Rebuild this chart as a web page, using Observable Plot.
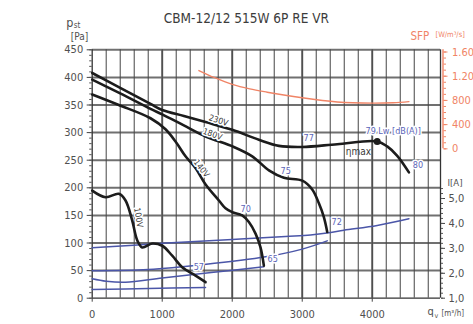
<!DOCTYPE html>
<html>
<head>
<meta charset="utf-8">
<script src="https://cdn.jsdelivr.net/npm/d3@7"></script>
<script src="https://cdn.jsdelivr.net/npm/@observablehq/plot@0.6"></script>
<style>
  body { margin: 0; background: #fff; }
</style>
</head>
<body>
<div id="chart"></div>
<script>
// Fan curves: static pressure [Pa] versus airflow qv [m³/h] at four supply voltages
const curve230V = [[0,408],[400,381],[833,352],[1000,341],[1310,330],[1619,319],[2000,305],[2381,287],[2667,276],[3000,274],[3500,279],[4071,284],[4214,275],[4357,258],[4524,228]];
const curve180V = [[0,396],[400,371],[833,343],[1000,333],[1309,313],[1620,293],[2023,274],[2286,257],[2530,231],[2738,218],[3000,213],[3143,197],[3238,172],[3309,147],[3357,120]];
const curve140V = [[0,369],[380,350],[833,326],[1047,306],[1200,282],[1333,257],[1480,235],[1620,206],[1810,177],[1904,163],[2000,156],[2143,150],[2238,138],[2333,117],[2404,92],[2452,59]];
const curve100V = [[0,195],[190,183],[381,189],[476,177],[571,141],[643,105],[714,92],[857,99],[1000,95],[1143,77],[1286,56],[1476,41],[1619,29]];

// Absorbed current [A] along each voltage curve
const current230V = [[0,3.02],[1000,3.2],[2000,3.36],[2762,3.48],[3119,3.54],[3381,3.63],[3595,3.73],[4071,3.92],[4524,4.19]];
const current180V = [[0,2.1],[800,2.15],[1600,2.35],[2476,2.66],[3000,2.97],[3357,3.3]];
const current140V = [[0,1.78],[200,1.68],[476,1.64],[1000,1.81],[1700,2.03],[2452,2.26]];
const current100V = [[0,1.35],[800,1.39],[1619,1.43]];

// Specific fan power [W/(m³/s)] at 230 V
const sfp230V = [[1524,1294],[1750,1175],[2000,1065],[2250,990],[2500,936],[3000,843],[3500,775],[4000,755],[4300,762],[4524,780]];

// Point of maximum efficiency
const etaMax = [[4071,284]];

// Sound power level labels Lw [dB(A)]
const lwText = ["57","65","70","72","75","77","79 Lw [dB(A)]","80"];
const lwFlow = [1521,2576,2190,3490,2761,3090,3975,4650];
const lwPressure = [57,71,162,138,231,290,303,241];

// Voltage labels along the curves
const voltText = ["230V","180V","140V","100V"];
const voltFlow = [1804,1719,1561,661];
const voltPressure = [322,297,235,146];
const voltAngle = [18,20,52,80];

// Axis ticks
const pressureTicks = [0,50,100,150,200,250,300,350,400,450];
const flowTicks = [0,1000,2000,3000,4000];
const currentTicks = [1,2,3,4,5];
const sfpTicks = [0,400,800,1200,1600];

const qMax = 4975;
const ink = "#1c1c1c";
const grid = "#707070";
const textGray = "#505050";
const blue = "#4b56a8";
const labelBlue = "#5b64b8";
const orange = "#f08466";
const font = "'DejaVu Sans Condensed', 'Liberation Sans Narrow', 'DejaVu Sans', sans-serif";

// Secondary axes are placed on the pressure scale
const currentToPa = d3.scaleLinear().domain([1, 5]).range([0, 180.6]);
const sfpToPa = d3.scaleLinear().domain([0, 1600]).range([270.6, 446]);

const currentFmt = d => currentToPa.invert(d).toFixed(1).replace(".", ",");
const sfpFmt = d => d3.format(",")(Math.round(sfpToPa.invert(d) / 100) * 100).replace(",", ".");

const q = d => d[0];
const p = d => d[1];

const lwRows = lwText.map((t, i) => ({t, q: lwFlow[i], p: lwPressure[i]}));
const voltRows = voltText.map((t, i) => ({t, q: voltFlow[i], p: voltPressure[i], a: voltAngle[i]}));

const chart = Plot.plot({
  width: 473,
  height: 324,
  marginLeft: 91.7,
  marginRight: 33,
  marginTop: 49.3,
  marginBottom: 26.3,
  x: {domain: [0, qMax], axis: null},
  y: {domain: [0, 450], axis: null},
  style: {fontFamily: font, fontSize: "11px", color: textGray, background: "white", overflow: "visible"},
  marks: [
    // grid
    Plot.ruleY(pressureTicks.slice(1), {stroke: grid, strokeWidth: 2}),
    Plot.ruleX(flowTicks.slice(1), {stroke: grid, strokeWidth: 2}),
    Plot.ruleX([0, qMax], {stroke: "#333", strokeWidth: 1.3}),
    Plot.ruleY([0], {stroke: "#333", strokeWidth: 1.3}),

    // left pressure axis
    Plot.axisY({ticks: pressureTicks, tickSize: 5, tickPadding: 4, label: null, stroke: "#444", fill: textGray, fontSize: 11}),
    Plot.axisY({ticks: d3.range(0, 451, 10), tickSize: 2.5, tickFormat: () => "", label: null, stroke: "#555"}),

    // bottom flow axis
    Plot.axisX({ticks: flowTicks, tickFormat: d => String(d), tickSize: 4, tickPadding: 8, label: null, stroke: "#444", fill: textGray, fontSize: 11}),
    Plot.tickX(d3.range(200, qMax, 200), {x: d => d, y1: 0, y2: 6, stroke: "#444", strokeWidth: 1}),

    // right current axis
    Plot.axisY({anchor: "right", ticks: currentTicks.map(currentToPa), tickFormat: currentFmt, tickSize: 4, tickPadding: 4, label: null, stroke: "#444", fill: textGray, fontSize: 11}),
    Plot.axisY({anchor: "right", ticks: d3.range(1, 5.5, 0.2).map(currentToPa), tickFormat: () => "", tickSize: 2, label: null, stroke: "#555"}),

    // right SFP axis
    Plot.ruleX([qMax], {y1: sfpToPa(0), y2: 450, stroke: orange, strokeWidth: 1.4, dx: 2.5}),
    Plot.axisY({anchor: "right", ticks: sfpTicks.map(sfpToPa), tickFormat: sfpFmt, tickSize: 4, tickPadding: 5, label: null, stroke: orange, fill: orange, fontSize: 11, dx: 2.5}),
    Plot.axisY({anchor: "right", ticks: d3.range(0, 1700, 100).map(sfpToPa), tickFormat: () => "", tickSize: 2.5, label: null, stroke: orange, dx: 2.5}),

    // SFP curve
    Plot.line(sfp230V, {x: q, y: d => sfpToPa(d[1]), stroke: orange, strokeWidth: 1.4, curve: "catmull-rom"}),

    // current curves
    Plot.line(current230V, {x: q, y: d => currentToPa(d[1]), stroke: blue, strokeWidth: 1.5, curve: "catmull-rom"}),
    Plot.line(current180V, {x: q, y: d => currentToPa(d[1]), stroke: blue, strokeWidth: 1.5, curve: "catmull-rom"}),
    Plot.line(current140V, {x: q, y: d => currentToPa(d[1]), stroke: blue, strokeWidth: 1.5, curve: "catmull-rom"}),
    Plot.line(current100V, {x: q, y: d => currentToPa(d[1]), stroke: blue, strokeWidth: 1.5, curve: "catmull-rom"}),

    // pressure curves
    Plot.line(curve230V, {x: q, y: p, stroke: ink, strokeWidth: 2.6, curve: "catmull-rom"}),
    Plot.line(curve180V, {x: q, y: p, stroke: ink, strokeWidth: 2.6, curve: "catmull-rom"}),
    Plot.line(curve140V, {x: q, y: p, stroke: ink, strokeWidth: 2.6, curve: "catmull-rom"}),
    Plot.line(curve100V, {x: q, y: p, stroke: ink, strokeWidth: 2.6, curve: "catmull-rom"}),
    Plot.dot(etaMax, {x: q, y: p, r: 3.5, fill: ink}),

    // labels
    Plot.text(voltRows, {x: "q", y: "p", text: "t", rotate: "a", fill: "#3a3a3a", fontSize: 8.5, stroke: "white", strokeWidth: 3}),
    Plot.text(lwRows, {x: "q", y: "p", text: "t", fill: labelBlue, fontSize: 9, textAnchor: "start", dx: -5, stroke: "white", strokeWidth: 3}),
    Plot.text(["ηmax"], {x: 3804, y: 266, text: d => d, fill: "#3a3a3a", fontSize: 10}),

    // titles
    Plot.text(["CBM-12/12 515W 6P RE VR"], {frameAnchor: "top", text: d => d, dx: -20, dy: -36, fontSize: 13.5, fill: "#3c3c3c"}),
    Plot.text(["p"], {frameAnchor: "top-left", text: d => d, dx: -26, dy: -32, fontSize: 12.5, fill: textGray}),
    Plot.text(["st"], {frameAnchor: "top-left", text: d => d, dx: -18.5, dy: -27, fontSize: 8, fill: textGray}),
    Plot.text(["[Pa]"], {frameAnchor: "top-left", text: d => d, dx: -21.5, dy: -17, fontSize: 10, fill: textGray}),
    Plot.text(["SFP"], {frameAnchor: "top-right", text: d => d, textAnchor: "start", dx: -30, dy: -18, fontSize: 11.5, fill: orange}),
    Plot.text(["[W/m³/s]"], {frameAnchor: "top-right", text: d => d, textAnchor: "start", dx: -5, dy: -18, fontSize: 7.5, fill: orange}),
    Plot.text(["I[A]"], {x: qMax, y: 208, text: d => d, textAnchor: "start", dx: 7, fontSize: 9.5, fill: textGray}),
    Plot.text(["q"], {frameAnchor: "bottom-right", text: d => d, textAnchor: "start", dx: -13, dy: 17, fontSize: 11, fill: textGray}),
    Plot.text(["v"], {frameAnchor: "bottom-right", text: d => d, textAnchor: "start", dx: -6, dy: 20, fontSize: 7, fill: textGray}),
    Plot.text(["[m³/h]"], {frameAnchor: "bottom-right", text: d => d, textAnchor: "start", dx: 1, dy: 17.5, fontSize: 8, fill: textGray})
  ]
});

document.getElementById("chart").appendChild(chart);
</script>
</body>
</html>
